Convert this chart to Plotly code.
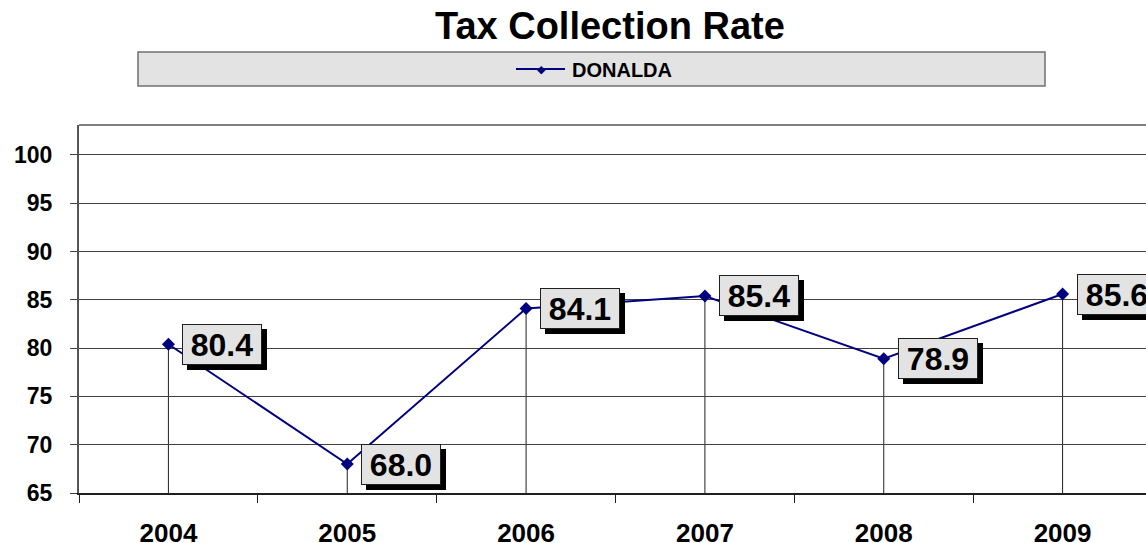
import plotly.graph_objects as go

years = ["2004", "2005", "2006", "2007", "2008", "2009"]
rates = [80.4, 68.0, 84.1, 85.4, 78.9, 85.6]
series_name = "DONALDA"
title_text = "Tax Collection Rate"
y_min, y_max = 65, 103.1

W, H = 1146, 543
ML, MR, MT, MB = 79, 0, 125, 50
PW, PH = W - ML - MR, H - MT - MB

def px_x(p):
    return (p - ML) / PW

def px_y(p):
    return (H - MB - p) / PH

FONT = "Liberation Sans, Arial, sans-serif"
NAVY = "#000080"

xpos = list(range(len(years)))
bounds = [i - 0.5 for i in range(len(years) + 1)]

fig = go.Figure()
fig.add_trace(go.Scatter(
    x=xpos, y=rates, name=series_name, mode="lines+markers",
    line=dict(color=NAVY, width=2),
    marker=dict(symbol="diamond", size=10, color=NAVY),
    showlegend=False,
))

shapes = []
# drop lines
for xi, v in zip(xpos, rates):
    shapes.append(dict(type="line", xref="x", yref="y", x0=xi, x1=xi, y0=y_min, y1=v,
                       line=dict(color="#202020", width=1), layer="below"))
# top frame line
shapes.append(dict(type="line", xref="paper", yref="paper", x0=0, x1=1, y0=1, y1=1,
                   line=dict(color="#808080", width=2)))
# legend box
shapes.append(dict(type="rect", xref="paper", yref="paper",
                   x0=px_x(138), x1=px_x(1045), y0=px_y(86), y1=px_y(52),
                   fillcolor="#e3e3e3", line=dict(color="#707070", width=1.5), layer="below"))
# legend line sample
shapes.append(dict(type="line", xref="paper", yref="paper",
                   x0=px_x(516), x1=px_x(565), y0=px_y(69), y1=px_y(69),
                   line=dict(color=NAVY, width=2)))

annotations = []
annotations.append(dict(text=title_text, xref="paper", yref="paper", x=px_x(610), y=px_y(26),
                        xanchor="center", yanchor="middle", showarrow=False,
                        font=dict(family=FONT, size=38, color="black", weight="bold")))
annotations.append(dict(text="\u25C6", xref="paper", yref="paper", x=px_x(541), y=px_y(69),
                        xanchor="center", yanchor="middle", showarrow=False,
                        font=dict(family="DejaVu Sans", size=11, color=NAVY)))
annotations.append(dict(text=series_name, xref="paper", yref="paper", x=px_x(570), y=px_y(70),
                        xanchor="left", yanchor="middle", showarrow=False,
                        font=dict(family=FONT, size=20, color="black", weight="bold")))
for xi, v in zip(xpos, rates):
    lab = f"{v:.1f}"
    common = dict(x=xi, y=v, xref="x", yref="y", showarrow=False,
                  xanchor="left", yanchor="middle", width=76, height=37, borderpad=1,
                  borderwidth=1, align="center", valign="middle")
    # drop shadow box
    annotations.append(dict(common, text="\u00a0", xshift=19, yshift=-5, bgcolor="black",
                            bordercolor="black",
                            font=dict(family=FONT, size=32, color="black")))
    # label box
    annotations.append(dict(common, text=lab, xshift=14, yshift=0, bgcolor="#e3e3e3",
                            bordercolor="#202020",
                            font=dict(family=FONT, size=32, color="black", weight="bold")))

fig.update_layout(
    width=W, height=H,
    margin=dict(l=ML, r=MR, t=MT, b=MB, pad=0, autoexpand=False),
    paper_bgcolor="white", plot_bgcolor="white",
    shapes=shapes, annotations=annotations,
    showlegend=False,
    xaxis=dict(range=[-0.5, 5.5 - 6 / 1073 * 6], tickvals=xpos, ticktext=years,
               ticks="", showgrid=False, showline=True, linecolor="#202020", linewidth=1.5,
               zeroline=False, ticklabelstandoff=16, automargin=False,
               minor=dict(tickvals=bounds, ticks="outside", ticklen=8, tickcolor="#202020",
                          tickwidth=1, showgrid=False),
               tickfont=dict(family=FONT, size=26, color="black", weight="bold")),
    yaxis=dict(range=[y_min, y_max], tick0=65, dtick=5, ticks="outside", ticklen=7,
               tickcolor="#404040", showgrid=True, gridcolor="#404040", gridwidth=1,
               showline=True, linecolor="#555555", linewidth=2, zeroline=False,
               ticklabelstandoff=13, automargin=False,
               tickfont=dict(family=FONT, size=23, color="black", weight="bold")),
)

fig.write_html("out.html", config={"displayModeBar": False},
               post_script="document.body.style.margin='0';document.body.style.overflow='hidden';")
